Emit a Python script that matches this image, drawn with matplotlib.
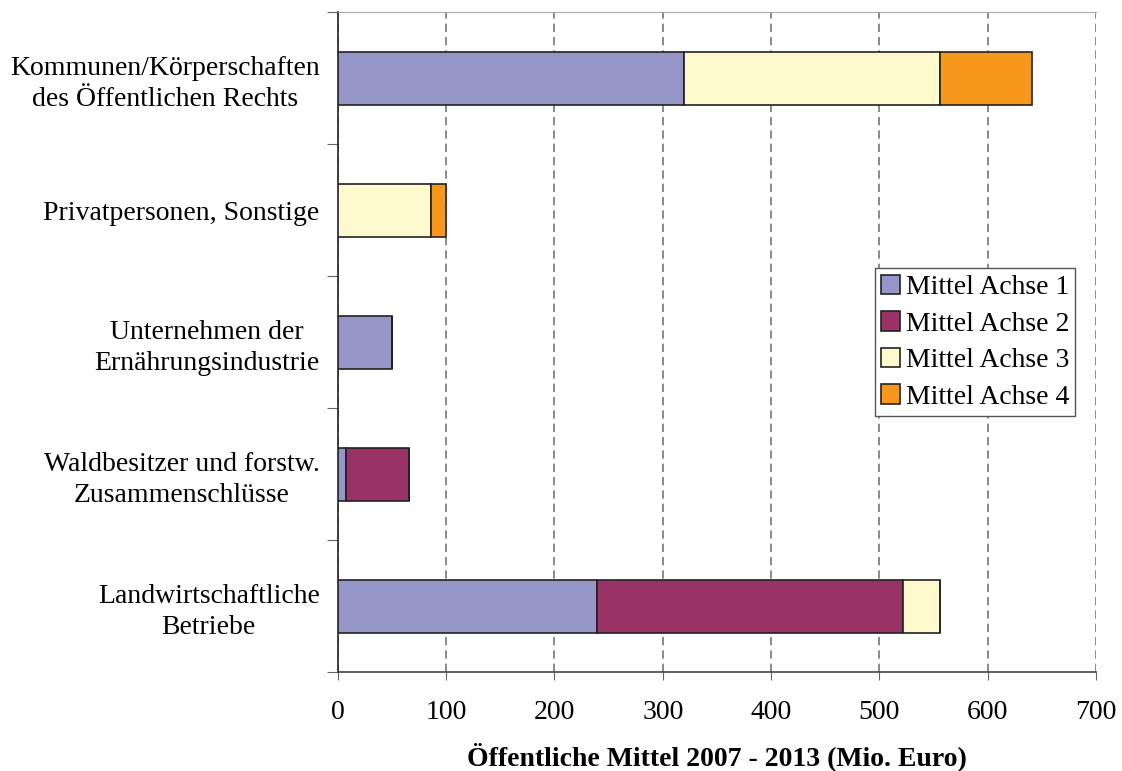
import numpy as np
import matplotlib
matplotlib.use("Agg")
import matplotlib.pyplot as plt

plt.rcParams['font.family'] = ['Liberation Serif', 'DejaVu Serif']

# categories from top to bottom
categories = [
    "Kommunen/Körperschaften\ndes Öffentlichen Rechts",
    "Privatpersonen, Sonstige",
    "Unternehmen der\nErnährungsindustrie",
    "Waldbesitzer und forstw.\nZusammenschlüsse",
    "Landwirtschaftliche\nBetriebe",
]
achse1 = [320, 0, 50, 8, 239]
achse2 = [0, 0, 0, 58, 283]
achse3 = [236, 86, 0, 0, 34]
achse4 = [85, 14, 0, 0, 0]

series_names = ["Mittel Achse 1", "Mittel Achse 2", "Mittel Achse 3", "Mittel Achse 4"]
colors = ["#9595c8", "#993366", "#fffacd", "#f7981d"]
xticks = [0, 100, 200, 300, 400, 500, 600, 700]

FS = 20

fig = plt.figure(figsize=(11.22, 7.71), dpi=100)
ax = fig.add_axes([0.301, 0.128, 0.676, 0.856])

y = np.arange(len(categories))
left = np.zeros(len(categories))
for vals, name, col in zip([achse1, achse2, achse3, achse4], series_names, colors):
    vals = np.array(vals, dtype=float)
    ax.barh(y, vals, left=left, height=0.4, color=col, edgecolor="#222222",
            linewidth=1.2, label=name, zorder=3)
    left += vals

ax.set_ylim(len(categories) - 0.5, -0.5)
ax.set_xlim(0, 700)
ax.set_xticks(xticks)
ax.set_xticklabels([str(t) for t in xticks], fontsize=FS)
ax.tick_params(axis='x', direction='out', length=6, color='#666666', pad=14)

# y ticks at category boundaries, labels at centres
ax.set_yticks(np.arange(len(categories) + 1) - 0.5)
ax.set_yticklabels([])
ax.tick_params(axis='y', direction='out', length=8, color='#666666')
ax.set_yticks(y, minor=True)
ax.set_yticklabels(categories, minor=True, fontsize=FS, multialignment='center',
                   linespacing=1.3)
ax.tick_params(axis='y', which='minor', length=0, pad=13)

ax.xaxis.grid(True, linestyle=(0, (5, 3)), color='#777777', linewidth=1.2, zorder=0)
ax.set_axisbelow(True)

ax.spines['right'].set_visible(False)
ax.spines['top'].set_color('#aaaaaa')
ax.spines['left'].set_color('#222222')
ax.spines['bottom'].set_color('#444444')
ax.spines['left'].set_linewidth(1.2)
ax.spines['bottom'].set_linewidth(1.2)

ax.set_xlabel("Öffentliche Mittel 2007 - 2013 (Mio. Euro)", fontsize=FS,
              fontweight='bold', labelpad=12)

leg = ax.legend(loc='upper left', bbox_to_anchor=(0.708, 0.612), fontsize=FS,
                frameon=True, fancybox=False, edgecolor='#555555', framealpha=1,
                handlelength=0.7, handleheight=0.7, handletextpad=0.2,
                borderpad=0.22, labelspacing=0.4, borderaxespad=0)
leg.get_frame().set_linewidth(1.0)

fig.savefig("out.png", dpi=100)
